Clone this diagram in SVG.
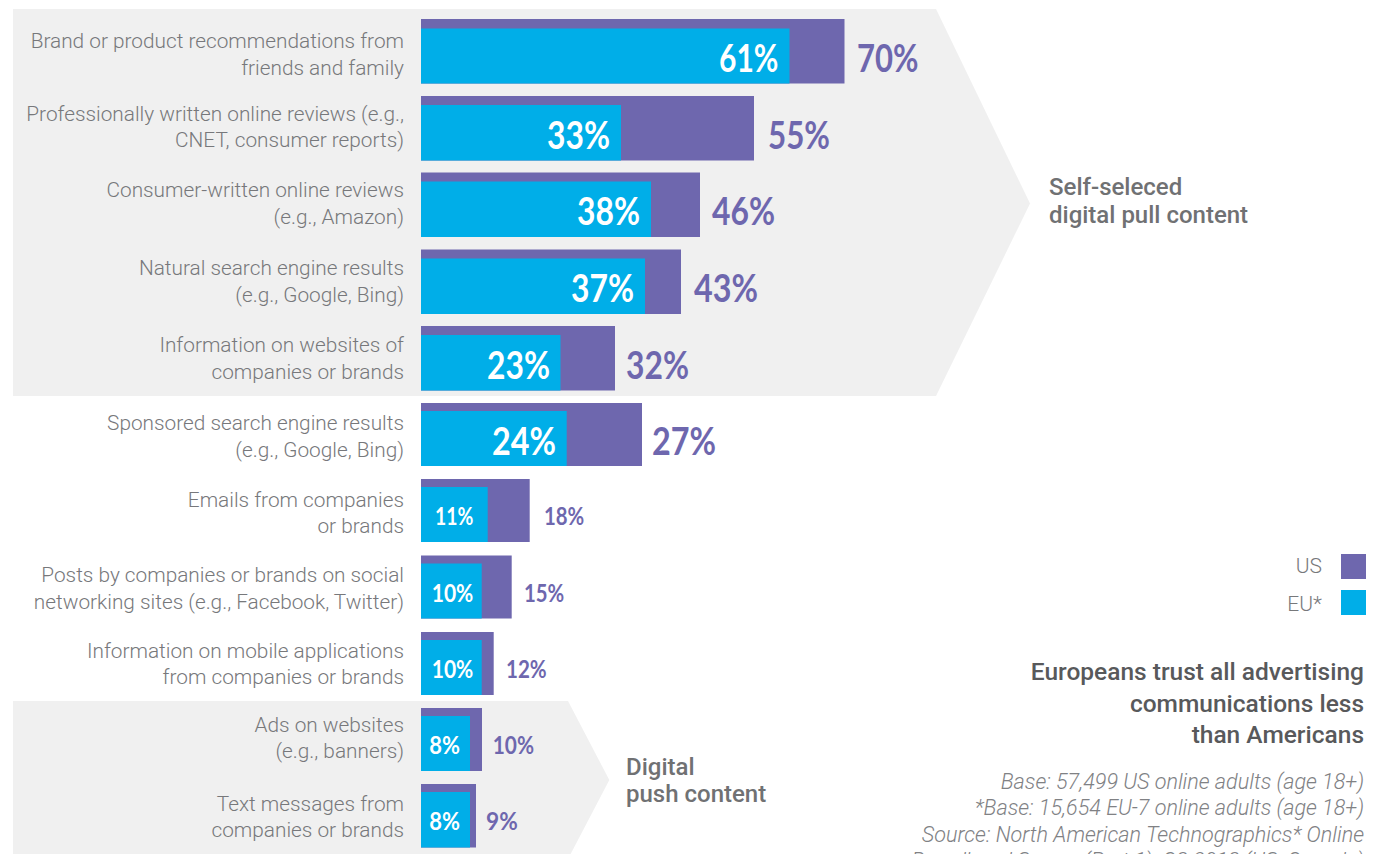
<svg xmlns="http://www.w3.org/2000/svg" width="1384" height="854" viewBox="0 0 1384 854">
<style>
.panel{fill:#f0f0f0}
.us{fill:#6e67ae}
.eu{fill:#00aee8}
.lbl{font-family:Roboto,"Liberation Sans",sans-serif;font-weight:300;font-size:20.8px;fill:#77787b;text-anchor:end}
.pl{font-family:Lato,"Liberation Sans",sans-serif;font-weight:700;font-size:38.7px}
.ps{font-family:Lato,"Liberation Sans",sans-serif;font-weight:700;font-size:25.5px}
.w{fill:#ffffff}
.p{fill:#6e67ae}
.grp{font-family:Roboto,"Liberation Sans",sans-serif;font-weight:500;font-size:24px;fill:#707173}
.leg{font-family:Roboto,"Liberation Sans",sans-serif;font-weight:300;font-size:21px;fill:#77787b;text-anchor:end}
.head{font-family:Roboto,"Liberation Sans",sans-serif;font-weight:500;font-size:24.5px;fill:#58595b;text-anchor:end}
.src{font-family:Roboto,"Liberation Sans",sans-serif;font-weight:300;font-style:italic;font-size:21.6px;fill:#808184;text-anchor:end}
</style>
<rect width="1384" height="854" fill="#ffffff"/>
<g id="panels">
<polygon class="panel" points="13,9 936,9 1030,203.5 936,396 13,396"/>
<polygon class="panel" points="13,701 568,701 609.3,780 568,859 13,859"/>
</g>
<g id="connectors"/>
<g id="row1">
<text class="lbl" x="404" y="47.5">Brand or product recommendations from</text>
<text class="lbl" x="404" y="74.5">friends and family</text>
<rect class="us" x="421" y="19" width="423.5" height="64.5"/>
<rect class="eu" x="421" y="28.5" width="368.5" height="55"/>
<text class="pl w" x="719" y="71.7" textLength="59.5" lengthAdjust="spacingAndGlyphs">61%</text>
<text class="pl p" x="857" y="71.7" textLength="61.5" lengthAdjust="spacingAndGlyphs">70%</text>
</g>
<g id="row2">
<text class="lbl" x="404" y="120.5">Professionally written online reviews (e.g.,</text>
<text class="lbl" x="404" y="147">CNET, consumer reports)</text>
<rect class="us" x="421" y="96" width="333" height="64.5"/>
<rect class="eu" x="421" y="105" width="200" height="55.5"/>
<text class="pl w" x="547" y="148.5" textLength="63" lengthAdjust="spacingAndGlyphs">33%</text>
<text class="pl p" x="768" y="148.5" textLength="62" lengthAdjust="spacingAndGlyphs">55%</text>
</g>
<g id="row3">
<text class="lbl" x="404" y="197">Consumer-written online reviews</text>
<text class="lbl" x="404" y="224">(e.g., Amazon)</text>
<rect class="us" x="421" y="172.5" width="279" height="64.5"/>
<rect class="eu" x="421" y="181.5" width="230" height="55.5"/>
<text class="pl w" x="577" y="225" textLength="63" lengthAdjust="spacingAndGlyphs">38%</text>
<text class="pl p" x="712" y="225" textLength="63" lengthAdjust="spacingAndGlyphs">46%</text>
</g>
<g id="row4">
<text class="lbl" x="404" y="275">Natural search engine results</text>
<text class="lbl" x="404" y="302">(e.g., Google, Bing)</text>
<rect class="us" x="421" y="249.5" width="260" height="64.5"/>
<rect class="eu" x="421" y="258.5" width="224" height="55.5"/>
<text class="pl w" x="571" y="302" textLength="63" lengthAdjust="spacingAndGlyphs">37%</text>
<text class="pl p" x="694" y="302" textLength="64" lengthAdjust="spacingAndGlyphs">43%</text>
</g>
<g id="row5">
<text class="lbl" x="404" y="352">Information on websites of</text>
<text class="lbl" x="404" y="378.5">companies or brands</text>
<rect class="us" x="421" y="326" width="194" height="64.5"/>
<rect class="eu" x="421" y="335" width="139.5" height="55.5"/>
<text class="pl w" x="487" y="378.5" textLength="63" lengthAdjust="spacingAndGlyphs">23%</text>
<text class="pl p" x="626" y="378.5" textLength="63" lengthAdjust="spacingAndGlyphs">32%</text>
</g>
<g id="row6">
<text class="lbl" x="404" y="430">Sponsored search engine results</text>
<text class="lbl" x="404" y="456.5">(e.g., Google, Bing)</text>
<rect class="us" x="421" y="403" width="221" height="63"/>
<rect class="eu" x="421" y="411" width="145.7" height="55"/>
<text class="pl w" x="492" y="455" textLength="64" lengthAdjust="spacingAndGlyphs">24%</text>
<text class="pl p" x="652" y="455" textLength="64" lengthAdjust="spacingAndGlyphs">27%</text>
</g>
<g id="row7">
<text class="lbl" x="404" y="506.7">Emails from companies</text>
<text class="lbl" x="404" y="533.3">or brands</text>
<rect class="us" x="421" y="479" width="108.7" height="63"/>
<rect class="eu" x="421" y="487" width="66.7" height="55"/>
<text class="ps w" x="435" y="525.3" textLength="38.3" lengthAdjust="spacingAndGlyphs">11%</text>
<text class="ps p" x="544" y="525.3" textLength="40.3" lengthAdjust="spacingAndGlyphs">18%</text>
</g>
<g id="row8">
<text class="lbl" x="404" y="582">Posts by companies or brands on social</text>
<text class="lbl" x="404" y="609">networking sites (e.g., Facebook, Twitter)</text>
<rect class="us" x="421" y="555.5" width="90.7" height="63"/>
<rect class="eu" x="421" y="563.5" width="60.7" height="55"/>
<text class="ps w" x="431.7" y="601.8" textLength="41.6" lengthAdjust="spacingAndGlyphs">10%</text>
<text class="ps p" x="524" y="601.8" textLength="40.3" lengthAdjust="spacingAndGlyphs">15%</text>
</g>
<g id="row9">
<text class="lbl" x="404" y="657.5">Information on mobile applications</text>
<text class="lbl" x="404" y="684">from companies or brands</text>
<rect class="us" x="421" y="632" width="72.7" height="63"/>
<rect class="eu" x="421" y="640" width="60.7" height="55"/>
<text class="ps w" x="431.7" y="678.3" textLength="41.6" lengthAdjust="spacingAndGlyphs">10%</text>
<text class="ps p" x="506" y="678.3" textLength="40.7" lengthAdjust="spacingAndGlyphs">12%</text>
</g>
<g id="row10">
<text class="lbl" x="404" y="731.5">Ads on websites</text>
<text class="lbl" x="404" y="757.5">(e.g., banners)</text>
<rect class="us" x="421" y="708" width="61" height="63"/>
<rect class="eu" x="421" y="716" width="49" height="55"/>
<text class="ps w" x="429.3" y="754.3" textLength="30.7" lengthAdjust="spacingAndGlyphs">8%</text>
<text class="ps p" x="492.7" y="754.3" textLength="41.3" lengthAdjust="spacingAndGlyphs">10%</text>
</g>
<g id="row11">
<text class="lbl" x="404" y="810.5">Text messages from</text>
<text class="lbl" x="404" y="837">companies or brands</text>
<rect class="us" x="421" y="784" width="55" height="63.5"/>
<rect class="eu" x="421" y="792" width="49" height="55.5"/>
<text class="ps w" x="429.3" y="830.3" textLength="30.7" lengthAdjust="spacingAndGlyphs">8%</text>
<text class="ps p" x="486" y="830.3" textLength="31.7" lengthAdjust="spacingAndGlyphs">9%</text>
</g>
<g id="group-pull">
<text class="grp" x="1049" y="195">Self-seleced</text>
<text class="grp" x="1049" y="223">digital pull content</text>
</g>
<g id="group-push">
<text class="grp" x="626" y="775">Digital</text>
<text class="grp" x="626" y="801.7">push content</text>
</g>
<g id="legend">
<text class="leg" x="1322" y="572.5">US</text>
<rect class="us" x="1341" y="554" width="25" height="25"/>
<text class="leg" x="1322" y="610.5">EU*</text>
<rect class="eu" x="1341" y="590" width="25" height="25"/>
</g>
<g id="headline">
<text class="head" x="1364" y="680">Europeans trust all advertising</text>
<text class="head" x="1364" y="711.7">communications less</text>
<text class="head" x="1364" y="743.3">than Americans</text>
</g>
<g id="source">
<text class="src" x="1364" y="789.3">Base: 57,499 US online adults (age 18+)</text>
<text class="src" x="1364" y="815.3">*Base: 15,654 EU-7 online adults (age 18+)</text>
<text class="src" x="1364" y="841.7">Source: North American Technographics* Online</text>
<text class="src" x="1364" y="868">Broadband Survey (Part 1), Q3 2013 (US, Canada)</text>
</g>
</svg>
